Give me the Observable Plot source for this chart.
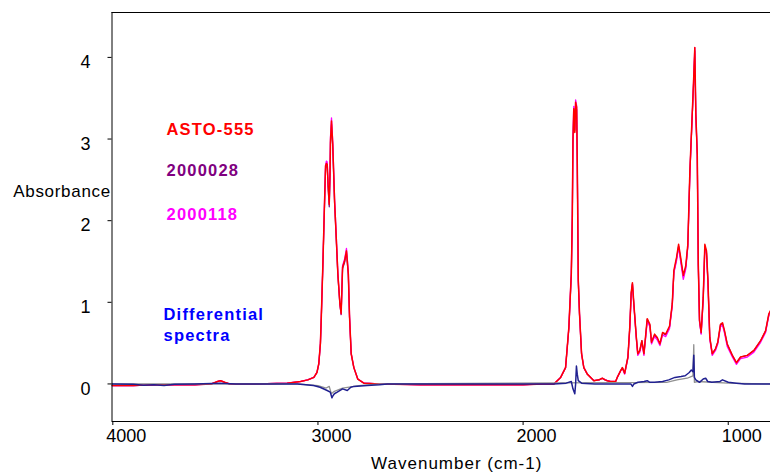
<!DOCTYPE html>
<html><head><meta charset="utf-8">
<script src="https://cdn.jsdelivr.net/npm/d3@7"></script>
<script src="https://cdn.jsdelivr.net/npm/@observablehq/plot@0.6"></script>
<style>html,body{margin:0;padding:0;background:#fff;}</style>
</head><body><div id="chart"></div>
<script>
// ---- data ----
const wavenumber = [4004,3900,3800,3700,3600,3520,3490,3475,3455,3430,
3300,3150,3085,3050,3020,3005,2996,2988,2984,2976,
2968,2963,2959,2955,2950,2945,2941,2939,2934,2928,
2919,2911,2903,2893,2887,2880,2870,2861,2852,2846,
2838,2825,2806,2776,2700,2500,2200,2000,1900,1850,
1817,1793,1777,1765,1760,1757,1753,1748,1744,1739,
1736,1731,1725,1715,1704,1687,1655,1630,1614,1600,
1590,1574,1549,1541,1525,1516,1505,1489,1480,1473,
1467,1460,1448,1441,1431,1421,1411,1402,1395,1382,
1374,1359,1346,1333,1320,1305,1286,1273,1265,1252,
1242,1232,1219,1207,1197,1187,1177,1169,1163,1158,
1151,1146,1140,1132,1122,1114,1106,1099,1090,1078,
1062,1051,1038,1028,1018,1005,980,960,940,907,
875,842,818,802,794];

const asto555 = [-0.02,-0.02,-0.01,-0.01,-0.01,0.00,0.03,0.04,0.02,0.00,
0.00,0.01,0.03,0.05,0.08,0.14,0.25,0.50,0.80,1.47,
2.22,2.67,2.70,2.69,2.41,2.20,2.60,2.98,3.22,2.94,
2.24,1.80,1.35,0.98,0.86,1.43,1.51,1.63,1.35,0.82,
0.37,0.20,0.06,0.01,0.00,-0.01,-0.01,-0.01,0.00,0.00,
0.08,0.20,0.69,1.35,2.08,2.98,3.37,3.08,3.45,3.39,
2.73,1.27,0.86,0.37,0.20,0.12,0.04,0.05,0.07,0.05,
0.04,0.03,0.03,0.08,0.16,0.20,0.13,0.33,0.70,1.12,
1.24,0.98,0.57,0.37,0.41,0.53,0.37,0.61,0.80,0.73,
0.51,0.61,0.57,0.49,0.63,0.61,0.71,0.98,1.39,1.55,
1.71,1.55,1.33,1.45,1.71,2.61,3.22,3.71,4.12,3.31,
2.82,1.47,0.78,0.63,1.06,1.71,1.63,1.27,0.57,0.37,
0.43,0.51,0.73,0.75,0.65,0.49,0.35,0.26,0.33,0.35,
0.41,0.53,0.65,0.86,0.90];

const s2000028 = [-0.02,-0.02,-0.01,-0.01,-0.01,0.00,0.03,0.04,0.02,0.00,
0.00,0.01,0.03,0.05,0.08,0.14,0.24,0.49,0.79,1.45,
2.19,2.64,2.67,2.66,2.38,2.17,2.57,2.95,3.18,2.91,
2.21,1.78,1.33,0.97,0.85,1.41,1.49,1.61,1.33,0.81,
0.37,0.20,0.06,0.01,0.00,-0.01,-0.01,-0.01,0.00,0.00,
0.08,0.20,0.68,1.33,2.05,2.94,3.33,3.10,3.42,3.36,
2.70,1.26,0.85,0.37,0.20,0.12,0.04,0.05,0.07,0.05,
0.04,0.03,0.03,0.08,0.16,0.20,0.13,0.33,0.69,1.11,
1.23,0.97,0.57,0.37,0.41,0.53,0.37,0.60,0.79,0.72,
0.51,0.60,0.56,0.49,0.62,0.60,0.70,0.97,1.37,1.53,
1.69,1.53,1.31,1.43,1.69,2.58,3.19,3.67,4.08,3.28,
2.79,1.45,0.77,0.62,1.05,1.69,1.61,1.26,0.57,0.37,
0.43,0.51,0.72,0.74,0.64,0.49,0.35,0.26,0.33,0.35,
0.41,0.53,0.65,0.85,0.89];

const s2000118 = [-0.02,-0.02,-0.01,-0.01,-0.01,0.00,0.03,0.04,0.02,0.00,
0.00,0.01,0.03,0.05,0.08,0.14,0.25,0.50,0.80,1.47,
2.22,2.68,2.73,2.72,2.44,2.22,2.62,3.02,3.26,2.97,
2.27,1.82,1.36,0.98,0.86,1.45,1.53,1.66,1.37,0.83,
0.37,0.20,0.06,0.01,0.00,-0.01,-0.01,-0.01,0.00,0.00,
0.08,0.20,0.69,1.36,2.10,3.00,3.40,3.12,3.48,3.41,
2.75,1.28,0.86,0.37,0.20,0.12,0.04,0.05,0.07,0.05,
0.04,0.03,0.03,0.08,0.16,0.19,0.12,0.32,0.68,1.10,
1.22,0.96,0.55,0.35,0.39,0.51,0.35,0.58,0.77,0.70,
0.49,0.58,0.54,0.47,0.60,0.58,0.68,0.95,1.36,1.51,
1.68,1.50,1.28,1.41,1.68,2.58,3.20,3.70,4.12,3.31,
2.82,1.46,0.76,0.61,1.03,1.68,1.60,1.24,0.55,0.35,
0.41,0.49,0.70,0.72,0.62,0.46,0.33,0.24,0.31,0.33,
0.39,0.51,0.63,0.84,0.88];

const diffWavenumber = [4004,3900,3850,3800,3750,3700,3600,3480,3400,3100,
3060,3022,2990,2955,2940,2932,2928,2920,2906,2880,
2857,2840,2825,2760,2700,2662,2400,2000,1850,1790,
1765,1757,1748,1744,1740,1736,1731,1715,1650,1475,
1467,1460,1440,1410,1395,1382,1360,1320,1290,1260,
1230,1210,1190,1180,1172,1168,1165,1158,1140,1122,
1110,1100,1080,1040,1028,1000,960,920,794];
const differential = [0,-0.005,-0.015,-0.01,-0.02,-0.005,0,0.01,0,0,
-0.01,-0.02,-0.04,-0.08,-0.1,-0.17,-0.15,-0.12,-0.1,-0.06,
-0.08,-0.04,-0.03,-0.02,-0.01,0,0,0,0,0.01,
0.03,-0.06,-0.12,0,0.22,0.12,0.04,0.01,0,0,
-0.03,0,0.02,0.03,0.04,0.02,0.02,0.03,0.05,0.08,
0.09,0.1,0.14,0.17,0.15,0.35,0.08,0.05,0.02,0.06,
0.07,0.03,0.02,0.03,0.05,0.02,0.01,0,0];

const grayWavenumber = [4004,3100,3000,2960,2945,2935,2920,2880,2800,2700,1300,1250,1200,1172,1168,1165,1150,1000,794];
const grayTrace = [0,0,-0.02,-0.05,-0.03,-0.12,-0.09,-0.05,-0.02,0,0.02,0.05,0.07,0.1,0.48,0.02,0.03,0.01,0];

const xTicks = [4000, 3000, 2000, 1000];
const yTicks = [0, 1, 2, 3, 4];
const legendLabels = ["ASTO-555", "2000028", "2000118", "Differential", "spectra"];
const legendColors = ["#ff0000", "#800080", "#ff00ff", "#0000ff", "#0000ff"];

// ---- layout ----
const legendPos = [[54.5,117.7],[54.5,158.7],[54.5,202.7],[51.5,302],[51.5,323.7]];
const xDomain = [4004, 794];
const yDomain = [-0.46, 4.55];

const rows = (xs, ys) => xs.map((x, i) => ({x, y: ys[i]}));

const chart = Plot.plot({
  width: 770, height: 472,
  marginLeft: 111.5, marginRight: 0, marginTop: 12, marginBottom: 51,
  style: {fontFamily: "'Liberation Sans', Arial, sans-serif", fontSize: "18px", color: "#000", background: "#fff", overflow: "visible"},
  x: {domain: xDomain, label: null},
  y: {domain: yDomain, label: null},
  marks: [
    Plot.line(rows(wavenumber, s2000028), {x: "x", y: "y", stroke: "#800080", strokeWidth: 1.2, clip: true}),
    Plot.line(rows(wavenumber, s2000118), {x: "x", y: "y", stroke: "#ff00ff", strokeWidth: 1.3, clip: true}),
    Plot.line(rows(wavenumber, asto555), {x: "x", y: "y", stroke: "#ff0000", strokeWidth: 1.5, clip: true}),
    Plot.line(rows(grayWavenumber, grayTrace), {x: "x", y: "y", stroke: "#909090", strokeWidth: 1.3, clip: true}),
    Plot.line(rows(diffWavenumber, differential), {x: "x", y: "y", stroke: "#202090", strokeWidth: 1.5, clip: true}),
    Plot.ruleY([yDomain[1]], {stroke: "#000"}),
    Plot.ruleY([yDomain[0]], {stroke: "#000"}),
    Plot.ruleX([xDomain[0]], {stroke: "#000"}),
    Plot.axisX({ticks: xTicks, tickSize: 4, tickFormat: () => "", label: null}),
    Plot.axisY({ticks: yTicks, tickSize: 4, tickFormat: () => "", label: null}),
    Plot.text(xTicks, {x: d => d, text: d => String(d), frameAnchor: "bottom", lineAnchor: "top", dy: 8, dx: 13.5, fontSize: 18, fill: "#000"}),
    Plot.text(yTicks, {y: d => d, text: d => String(d), frameAnchor: "left", textAnchor: "end", lineAnchor: "middle", dx: -21.5, dy: 5, fontSize: 18, fill: "#000"}),
    Plot.text(["Absorbance"], {frameAnchor: "left", textAnchor: "start", lineAnchor: "middle", dx: -98.8, dy: -25.2, fontSize: 17, fill: "#000"}),
    Plot.text(["Wavenumber (cm-1)"], {frameAnchor: "bottom", lineAnchor: "top", dy: 35.6, dx: 15.5, fontSize: 17, fill: "#000"}),
    ...legendLabels.map((label, i) => Plot.text([label], {frameAnchor: "top-left", textAnchor: "start", lineAnchor: "middle", dx: legendPos[i][0], dy: legendPos[i][1], fill: legendColors[i], fontWeight: "bold", fontSize: 16.5}))
  ]
});
document.getElementById("chart").appendChild(chart);
const spacing = {"Absorbance": "0.7px", "Wavenumber (cm-1)": "1px"};
legendLabels.forEach(l => spacing[l] = "1.2px");
d3.select(chart).selectAll("text").each(function() {
  const s = spacing[this.textContent];
  if (s) this.style.letterSpacing = s;
});
</script>
</body></html>
